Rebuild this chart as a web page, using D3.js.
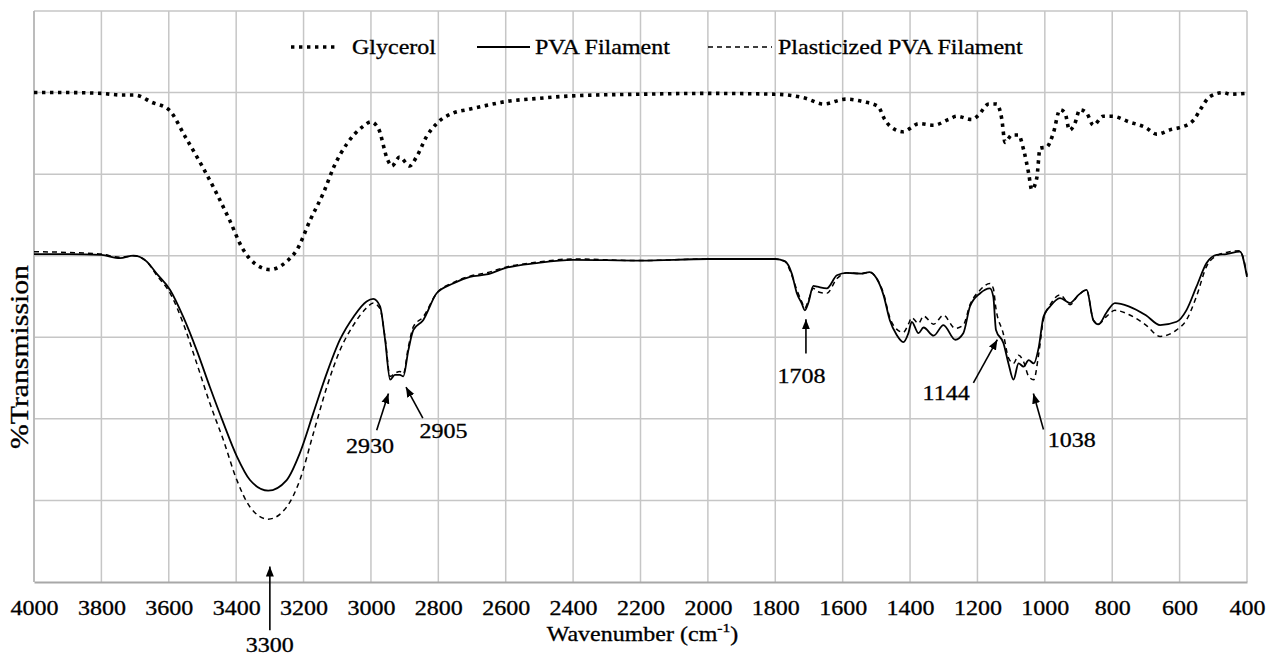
<!DOCTYPE html>
<html>
<head>
<meta charset="utf-8">
<script src="https://cdn.jsdelivr.net/npm/d3@7"></script>
<style>
  body { margin: 0; background: #fff; }
  svg text { font-family: "Liberation Serif", "LiberationSerif", "Times New Roman", Times, "DejaVu Serif", serif !important; fill: #000; stroke: #000; stroke-width: 0.3px; }
</style>
</head>
<body>
<div id="chart"></div>
<script>
// Data (wavenumber in cm-1, %T on a 0..70 grid)
const xTicks = [4000, 3800, 3600, 3400, 3200, 3000, 2800, 2600, 2400, 2200, 2000, 1800, 1600, 1400, 1200, 1000, 800, 600, 400];
const seriesNames = ["Glycerol", "PVA Filament", "Plasticized PVA Filament"];

const glyWave = [4000, 3900, 3800, 3740, 3700, 3650, 3600, 3550, 3500, 3460, 3420, 3380, 3340, 3300, 3250, 3220, 3180, 3140, 3110, 3070,
  3025, 3000, 2978, 2950, 2938, 2915, 2885, 2865, 2835, 2805, 2755, 2715, 2660, 2600, 2500, 2400, 2200, 2000, 1800, 1710,
  1657, 1590, 1540, 1495, 1475, 1460, 1420, 1400, 1375, 1330, 1286, 1261, 1217, 1200, 1166, 1143, 1128, 1118, 1098, 1078,
  1063, 1048, 1039, 1024, 1014, 995, 975, 955, 940, 927, 911, 896, 876, 856, 827, 800, 750, 700, 668, 623,
  600, 559, 539, 510, 470, 450, 400];
const glyT = [60.0, 60.0, 59.9, 59.7, 59.7, 58.8, 57.9, 54.5, 50.9, 47.8, 44.4, 40.8, 38.9, 38.3, 39.3, 40.7, 44.4, 47.8, 50.9, 53.8,
  55.8, 56.4, 55.6, 51.7, 51.0, 52.1, 51.0, 52.1, 54.6, 56.2, 57.5, 57.9, 58.4, 58.9, 59.3, 59.6, 59.8, 59.9, 59.8, 59.3,
  58.6, 59.2, 58.9, 58.3, 56.7, 55.9, 55.2, 55.6, 56.2, 56.0, 56.7, 57.1, 56.7, 57.1, 58.6, 58.6, 56.8, 53.9, 54.8, 54.8,
  53.0, 50.1, 48.1, 49.5, 53.2, 53.3, 55.0, 57.9, 57.5, 55.4, 56.2, 57.9, 57.5, 56.0, 57.1, 57.1, 56.4, 55.7, 54.9, 55.5,
  55.7, 56.6, 57.9, 59.5, 60.0, 59.8, 59.9];

const pvaWave = [4000, 3900, 3800, 3745, 3705, 3666, 3636, 3596, 3557, 3517, 3478, 3438, 3398, 3359, 3305, 3250, 3211, 3171, 3131, 3092,
  3052, 3013, 2993, 2973, 2958, 2943, 2929, 2914, 2904, 2889, 2874, 2845, 2805, 2756, 2706, 2657, 2600, 2508, 2400, 2200,
  2000, 1800, 1771, 1751, 1736, 1722, 1712, 1702, 1687, 1675, 1647, 1617, 1588, 1545, 1520, 1499, 1479, 1460, 1440, 1420,
  1405, 1395, 1375, 1360, 1330, 1301, 1266, 1242, 1222, 1192, 1163, 1153, 1145, 1123, 1108, 1093, 1078, 1063, 1048, 1033,
  1018, 1004, 984, 955, 925, 900, 876, 856, 841, 816, 792, 751, 700, 658, 609, 580, 550, 520, 490, 461,
  421, 400];
const pvaT = [40.2, 40.2, 40.1, 39.7, 40.0, 39.3, 37.8, 35.8, 32.5, 28.4, 23.9, 19.5, 15.4, 12.5, 11.2, 12.5, 15.8, 20.7, 25.6, 29.7,
  32.5, 34.4, 34.7, 33.8, 29.7, 24.8, 25.4, 25.4, 25.2, 28.4, 30.9, 32.1, 35.4, 36.6, 37.4, 37.7, 38.5, 39.1, 39.5, 39.4,
  39.6, 39.6, 39.3, 37.8, 35.4, 34.2, 33.3, 34.2, 36.3, 36.2, 36.0, 37.6, 37.9, 37.8, 38.0, 37.2, 35.2, 32.1, 30.3, 29.4,
  30.5, 31.9, 30.5, 31.2, 30.2, 31.5, 29.7, 30.5, 33.8, 35.4, 36.0, 35.0, 30.9, 29.3, 26.8, 24.8, 26.8, 26.4, 27.2, 26.8,
  28.8, 32.5, 33.8, 34.8, 34.2, 35.2, 35.8, 32.1, 31.6, 33.1, 34.2, 33.8, 32.7, 31.5, 31.9, 33.3, 36.2, 39.1, 40.1, 40.2,
  40.5, 37.4];
const plasT = [40.5, 40.4, 40.2, 39.8, 40.0, 39.3, 37.6, 35.4, 31.7, 26.8, 21.9, 17.4, 12.5, 9.2, 7.7, 9.2, 12.5, 18.2, 23.9, 28.4,
  31.5, 33.6, 34.2, 33.5, 29.9, 25.2, 25.6, 25.8, 25.5, 28.8, 31.3, 32.5, 35.4, 36.7, 37.5, 37.9, 38.6, 39.2, 39.6, 39.4,
  39.6, 39.6, 39.3, 37.6, 35.8, 34.4, 33.6, 34.5, 36.0, 35.6, 35.4, 37.2, 37.9, 37.8, 38.0, 37.2, 35.4, 32.4, 31.0, 30.6,
  31.6, 32.4, 31.7, 32.6, 31.6, 32.7, 31.1, 31.5, 34.0, 35.8, 36.6, 36.0, 33.5, 30.4, 27.5, 26.8, 27.8, 27.0, 25.2, 24.8,
  28.0, 32.2, 34.0, 35.2, 34.0, 35.2, 35.8, 32.1, 31.6, 32.6, 33.3, 32.8, 31.5, 30.1, 30.9, 32.1, 35.0, 38.7, 40.0, 40.4,
  40.6, 37.6];

// peak annotations: label, arrow tip, arrow tail, text centre (wavenumber, %T)
const annoLabels = ["3300", "2930", "2905", "1708", "1144", "1038"];
const annoTip  = [[3300, 1.9], [2948, 23.1], [2896, 23.9], [1709, 32.2], [1141, 29.7], [1034, 23.1]];
const annoTail = [[3300, -5.9], [2983, 18.6], [2846, 20.1], [1709, 28.0], [1212, 24.4], [1004, 18.7]];
const annoText = [[3300, -7.7], [3003, 16.6], [2785, 18.5], [1722, 25.2], [1293, 23.1], [920, 17.4]];

// Layout
const width = 1278, height = 655;
const margin = {top: 11, right: 31, bottom: 73, left: 34},
    w = width - margin.left - margin.right,
    h = height - margin.top - margin.bottom;
const gridColor = "#c6c6c6";
const serif = "'Liberation Serif', 'Times New Roman', Times, 'DejaVu Serif', serif";
const stretch = 1.2;   // figure text is horizontally stretched

const svg = d3.select("#chart").append("svg")
    .attr("width", width)
    .attr("height", height);

svg.append("defs").append("marker")
    .attr("id", "arrow")
    .attr("viewBox", "0 0 10 8")
    .attr("refX", 10).attr("refY", 4)
    .attr("markerWidth", 10).attr("markerHeight", 9)
    .attr("markerUnits", "userSpaceOnUse")
    .attr("orient", "auto")
    .append("path")
    .attr("d", "M0,0 L10,4 L0,8 Z")
    .attr("fill", "#000");

const g = svg.append("g").attr("transform", `translate(${margin.left},${margin.top})`);

const x = d3.scaleLinear().domain([4000, 400]).range([0, w]);
const y = d3.scaleLinear().domain([0, 70]).range([h, 0]);

function stext(sel, px, py, str, size, anchor) {
    return sel.append("text")
        .attr("transform", `translate(${px},${py}) scale(${stretch},1)`)
        .attr("text-anchor", anchor || "middle")
        .attr("dominant-baseline", "central")
        .attr("font-family", serif)
        .style("font-size", size + "px")
        .text(str);
}

// grid
g.append("g").selectAll("line")
    .data(xTicks)
    .enter().append("line")
    .attr("x1", d => x(d)).attr("x2", d => x(d))
    .attr("y1", 0).attr("y2", h)
    .attr("stroke", gridColor).attr("stroke-width", 1.5);

g.append("g").selectAll("line")
    .data(d3.range(10, 71, 10))
    .enter().append("line")
    .attr("x1", 0).attr("x2", w)
    .attr("y1", d => y(d)).attr("y2", d => y(d))
    .attr("stroke", gridColor).attr("stroke-width", 1.5);

// bottom axis
const xAxis = g.append("g")
    .attr("transform", `translate(0,${h})`)
    .call(d3.axisBottom(x).tickValues(xTicks).tickSize(0).tickPadding(0).tickFormat(d3.format("d")));
xAxis.attr("font-family", serif);
xAxis.select(".domain").attr("stroke", "#a8a8a8").attr("stroke-width", 2);
xAxis.selectAll("text")
    .attr("y", 26)
    .attr("dy", null)
    .attr("dominant-baseline", "central")
    .attr("transform", `scale(${stretch},1)`)
    .style("font-size", "20px")
    .attr("fill", "#000");

// left edge
g.append("line")
    .attr("x1", 0).attr("x2", 0).attr("y1", 0).attr("y2", h)
    .attr("stroke", "#b4b4b4").attr("stroke-width", 1.5);

// curves
const line = d3.line()
    .x(d => x(d[0]))
    .y(d => y(d[1]))
    .curve(d3.curveMonotoneX);

const glyData = d3.zip(glyWave, glyT);
const pvaData = d3.zip(pvaWave, pvaT);
const plasData = d3.zip(pvaWave, plasT);

g.append("path")
    .datum(plasData)
    .attr("d", line)
    .attr("fill", "none")
    .attr("stroke", "#000")
    .attr("stroke-width", 1.5)
    .attr("stroke-dasharray", "5,4");

g.append("path")
    .datum(pvaData)
    .attr("d", line)
    .attr("fill", "none")
    .attr("stroke", "#000")
    .attr("stroke-width", 1.8);

g.append("path")
    .datum(glyData)
    .attr("d", line)
    .attr("fill", "none")
    .attr("stroke", "#000")
    .attr("stroke-width", 3.6)
    .attr("stroke-dasharray", "3.4,4.6");

// annotations
annoLabels.forEach(function(lab, i) {
    g.append("line")
        .attr("x1", x(annoTail[i][0])).attr("y1", y(annoTail[i][1]))
        .attr("x2", x(annoTip[i][0])).attr("y2", y(annoTip[i][1]))
        .attr("stroke", "#000").attr("stroke-width", 1.6)
        .attr("marker-end", "url(#arrow)");
    stext(g, x(annoText[i][0]), y(annoText[i][1]), lab, 20);
});

// legend
const legend = svg.append("g").attr("transform", "translate(0,47)");
const legendItems = [
    {x1: 291, x2: 337, tx: 352, width: 3.6, dash: "3.4,4.6"},
    {x1: 477, x2: 530, tx: 535, width: 1.8, dash: null},
    {x1: 708, x2: 772, tx: 778, width: 1.5, dash: "5,4"}
];
legendItems.forEach(function(it, i) {
    legend.append("line")
        .attr("x1", it.x1).attr("x2", it.x2)
        .attr("y1", 0).attr("y2", 0)
        .attr("stroke", "#000")
        .attr("stroke-width", it.width)
        .attr("stroke-dasharray", it.dash);
    stext(legend, it.tx, 0, seriesNames[i], 20, "start");
});

// axis titles
const xt = svg.append("text")
    .attr("transform", `translate(${margin.left + w / 2 + 2},634) scale(${stretch},1)`)
    .attr("text-anchor", "middle")
    .attr("dominant-baseline", "central")
    .attr("font-family", serif)
    .style("font-size", "20px");
xt.append("tspan").text("Wavenumber (cm");
xt.append("tspan").attr("dy", -7).style("font-size", "13px").text("-1");
xt.append("tspan").attr("dy", 7).text(")");

svg.append("text")
    .attr("transform", "translate(20,357) rotate(-90) scale(1.19,1)")
    .attr("text-anchor", "middle")
    .attr("dominant-baseline", "central")
    .attr("font-family", serif)
    .style("font-size", "25px")
    .text("%Transmission");
</script>
</body>
</html>
